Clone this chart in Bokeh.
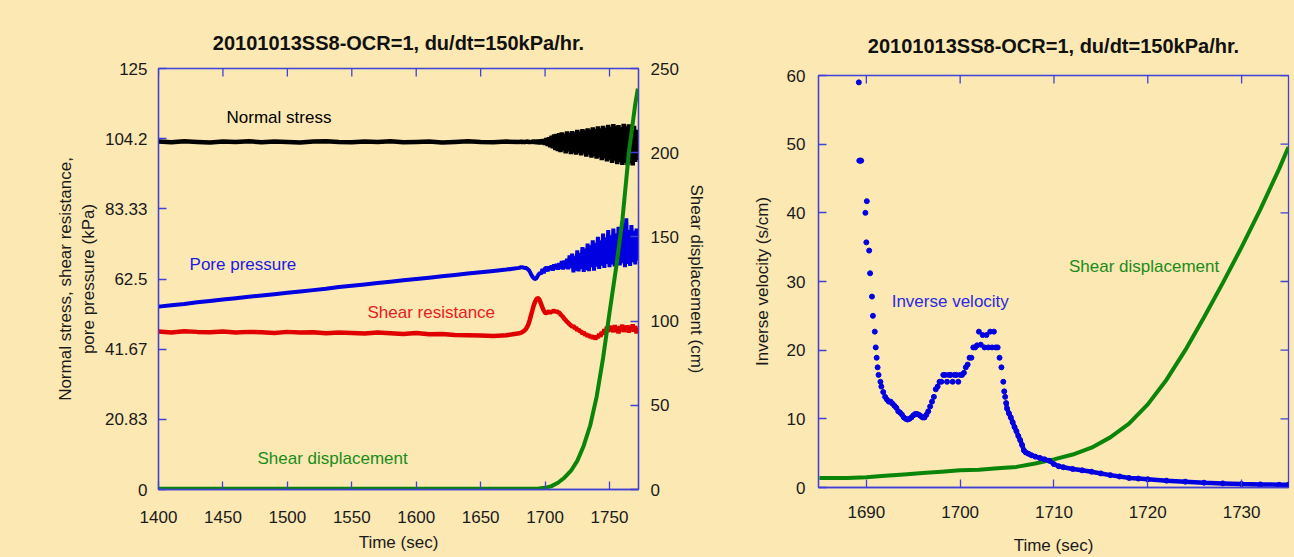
import numpy as np
from bokeh.plotting import figure
from bokeh.models import Range1d, LinearAxis, FixedTicker, GlobalInlineStyleSheet
from bokeh.embed import file_html
from bokeh.resources import INLINE
from bokeh.core.properties import value

# ---------------- data: left chart ----------------
TITLE = "20101013SS8-OCR=1, du/dt=150kPa/hr."

left_y_ticks = [0, 20.83, 41.67, 62.5, 83.33, 104.2, 125]
left_y_tick_labels = ["0", "20.83", "41.67", "62.5", "83.33", "104.2", "125"]
left_x_ticks = [1400, 1450, 1500, 1550, 1600, 1650, 1700, 1750]
disp_ticks = [0, 50, 100, 150, 200, 250]

# slow part sampled every 10 s (1400..1680), fast part every 1 s (1681..1772)
t_slow = list(range(1400, 1681, 10))
t_fast = list(range(1681, 1773, 1))

normal_slow = [103.3, 103.1, 103.4, 103.2, 103.0, 103.3, 103.2, 103.4, 103.1, 103.3,
               103.2, 103.0, 103.3, 103.4, 103.2, 103.1, 103.3, 103.2, 103.4, 103.1,
               103.2, 103.3, 103.0, 103.2, 103.4, 103.2, 103.1, 103.3, 103.2]
normal_fast = [103.3, 103.1, 103.4, 103.0, 103.3, 103.2, 103.5, 102.9, 103.4,
               103.0, 103.6, 102.8, 103.7, 102.7, 103.8, 102.6, 103.9, 102.5, 104.0, 102.4,
               104.3, 102.0, 104.6, 101.6, 105.0, 101.3, 105.4, 100.8, 105.6, 100.5,
               105.8, 100.2, 106.0, 100.6, 105.6, 99.8, 106.3, 100.4, 105.9, 99.6,
               106.4, 100.0, 106.0, 99.4, 106.8, 99.9, 106.2, 99.2, 107.0, 99.7,
               106.6, 98.8, 107.2, 99.4, 106.8, 98.5, 107.5, 99.0, 107.0, 98.2,
               107.8, 98.6, 107.2, 97.8, 108.0, 98.3, 107.4, 97.4, 108.3, 97.9,
               107.6, 97.0, 108.5, 97.6, 107.9, 96.6, 108.2, 97.2, 107.5, 96.4,
               108.6, 97.0, 107.8, 96.3, 108.4, 96.9, 107.6, 96.2, 108.0, 97.3,
               106.8, 97.8]

pore_slow = [54.3, 54.7, 55.1, 55.6, 56.0, 56.4, 56.8, 57.2, 57.6, 58.0,
             58.4, 58.8, 59.2, 59.6, 60.1, 60.5, 60.9, 61.3, 61.7, 62.1,
             62.5, 62.9, 63.3, 63.7, 64.1, 64.5, 64.9, 65.3, 65.8]
pore_fast = [66.0, 66.0, 65.9, 65.8, 65.8, 65.6, 65.3, 64.8, 64.0, 63.3,
             62.8, 62.5, 62.6, 63.2, 63.9, 64.3, 64.0, 65.5, 64.2, 65.8,
             65.8, 64.8, 66.2, 65.2, 66.5, 65.0, 66.8, 65.4, 67.0, 65.3,
             67.2, 65.5, 67.8, 65.3, 68.0, 65.6, 68.5, 65.4, 69.5, 65.8,
             70.0, 64.5, 69.2, 65.0, 71.0, 64.8, 70.2, 65.5, 72.0, 64.6,
             71.5, 65.2, 73.0, 64.8, 72.5, 66.0, 74.0, 65.0, 73.2, 66.2,
             75.0, 65.5, 74.0, 66.5, 76.0, 65.8, 74.8, 67.0, 77.0, 66.0,
             75.5, 66.8, 77.5, 66.2, 76.0, 67.5, 78.0, 66.5, 76.5, 67.2,
             79.0, 66.0, 80.5, 67.0, 77.0, 66.4, 78.5, 67.5, 76.8, 66.8,
             77.5, 68.0]

shear_slow = [46.9, 46.6, 47.0, 46.8, 46.7, 46.9, 46.6, 46.8, 46.7, 46.5,
              46.8, 46.6, 46.7, 46.4, 46.6, 46.5, 46.3, 46.6, 46.4, 46.2,
              46.5, 46.1, 46.2, 45.9, 45.8, 45.7, 45.6, 45.8, 46.4]
shear_fast = [46.5, 46.7, 46.9, 47.2, 47.6, 48.2, 49.0, 50.2, 51.6, 53.0,
              54.4, 55.5, 56.3, 56.8, 56.7, 56.0, 55.0, 54.0, 53.1, 52.5,
              52.3, 52.6, 52.9, 52.5, 52.8,
              52.9, 53.1, 52.7, 53.0, 52.6,
              52.5, 52.0, 51.6, 51.2, 50.6, 50.3, 49.8, 49.5, 49.0, 48.8,
              48.3, 48.6, 47.8, 48.1, 47.2, 47.6, 46.8, 47.1, 46.2, 46.7,
              45.8, 46.3, 45.4, 46.0, 45.1, 45.8, 44.8, 45.6, 44.6, 45.5,
              45.0, 46.2, 45.4, 46.8, 46.0, 47.6, 46.5, 48.3, 46.8, 48.6,
              47.0, 48.4, 46.7, 48.8, 46.9, 48.2, 46.4, 48.5, 47.2, 48.9,
              46.8, 48.3, 47.0, 48.7, 46.6, 48.4, 47.1, 49.0, 46.9, 48.5,
              46.4, 47.8]

disp_t = [1400, 1500, 1600, 1690, 1695, 1700, 1705, 1710, 1715, 1720, 1725,
          1730, 1735, 1740, 1745, 1750, 1755, 1760, 1765, 1770, 1772]
disp_v = [0.5, 0.5, 0.5, 0.5, 0.6, 1.0, 2.0, 4.0, 7.0, 11.0, 17.0,
          26.0, 38.0, 55.0, 78.0, 105.0, 131.0, 160.0, 200.0, 229.0, 238.0]

left_labels = ["Normal stress", "Pore pressure", "Shear resistance", "Shear displacement"]

# ---------------- data: right chart ----------------
right_x_ticks = [1690, 1700, 1710, 1720, 1730]
right_y_ticks = [0, 10, 20, 30, 40, 50, 60]

iv_t = [1689.2, 1689.25, 1689.35, 1689.45, 1689.9, 1690.05, 1690.0, 1690.3,
        1690.4, 1690.6, 1690.7, 1690.9, 1691.0, 1691.1, 1691.2, 1691.3, 1691.5,
        1691.6, 1691.8, 1692.0, 1692.2, 1692.4,
        1692.6, 1692.8, 1693.0, 1693.2, 1693.4, 1693.6, 1693.8, 1694.0, 1694.2,
        1694.4, 1694.6, 1694.8, 1695.0, 1695.2, 1695.4, 1695.6, 1695.8, 1696.0,
        1696.2, 1696.4, 1696.6, 1696.8, 1697.0, 1697.2, 1697.4, 1697.6, 1697.8,
        1698.0, 1698.2, 1698.4, 1698.6, 1698.8, 1699.0, 1699.2, 1699.4, 1699.6,
        1699.8, 1700.0, 1700.2, 1700.4, 1700.6, 1700.8, 1701.0, 1701.2, 1701.4,
        1701.6, 1701.8, 1702.0, 1702.2, 1702.4, 1702.6, 1702.8, 1703.0, 1703.2,
        1703.4, 1703.6, 1703.8, 1704.0, 1704.2, 1704.4, 1704.6, 1704.7, 1704.8]
iv_v = [59.0, 47.6, 47.6, 47.6, 40.0, 41.7, 35.7, 34.5,
        31.2, 27.8, 25.0, 22.7, 20.4, 18.9, 17.5, 16.4, 15.4,
        14.7, 13.9, 13.2, 12.8, 12.5,
        12.5, 12.2, 11.9, 11.6, 11.1, 10.9, 10.6, 10.2, 10.0,
        9.9, 10.0, 10.2, 10.5, 10.7, 10.7, 10.6, 10.4, 10.2,
        10.2, 10.6, 11.1, 11.8, 12.5, 13.2, 14.3, 14.7, 15.4,
        15.4, 16.4, 16.4, 15.4, 16.4, 16.4, 15.4, 16.4, 16.4,
        15.4, 16.4, 16.4, 16.7, 17.5, 17.9, 18.9, 18.9, 20.4,
        20.4, 20.7, 22.7, 20.8, 22.2, 20.4, 22.2, 20.4, 22.7,
        20.4, 22.7, 20.4, 20.4, 18.9, 17.5, 15.4, 14.0, 13.2]

iv_tail_t = [1704.9, 1705.0, 1705.2, 1705.4, 1705.6, 1705.8, 1706.0, 1706.2, 1706.4,
             1706.6, 1706.8, 1707.0, 1707.3, 1707.6, 1708.0, 1708.5, 1709.0, 1709.5,
             1710.0, 1710.5, 1711.0, 1712.0, 1713.0, 1714.0, 1715.0, 1716.0, 1717.0,
             1718.0, 1719.0, 1720.0, 1722.0, 1724.0, 1726.0, 1728.0, 1730.0, 1732.0,
             1734.0, 1735.0]
iv_tail_v = [12.3, 11.5, 10.8, 10.2, 9.5, 8.8, 8.2, 7.5, 6.9,
             6.2, 5.4, 5.1, 4.9, 4.7, 4.5, 4.3, 4.1, 3.9,
             3.4, 3.1, 2.95, 2.7, 2.5, 2.3, 2.05, 1.8, 1.6,
             1.4, 1.3, 1.2, 1.0, 0.85, 0.7, 0.6, 0.5, 0.45,
             0.4, 0.4]

disp2_t = [1685, 1688, 1690, 1692, 1694, 1696, 1698, 1700, 1702, 1704, 1706, 1708,
           1710, 1712, 1714, 1716, 1718, 1720, 1722, 1724, 1726, 1728, 1730, 1732,
           1734, 1735]
disp2_v = [1.4, 1.4, 1.5, 1.7, 1.9, 2.1, 2.3, 2.5, 2.6, 2.8, 3.0, 3.5,
           4.1, 4.8, 5.8, 7.3, 9.3, 12.1, 15.7, 20.0, 24.8, 29.8, 35.0, 40.5,
           46.4, 49.6]

right_labels = ["Inverse velocity", "Shear displacement"]

# ---------------- styling ----------------
BG = "#FBE8B3"
AX = "#4141D6"
FONT = "Liberation Sans"
TXT = "#1a1a1a"
BLUE = "#0000E0"
RED = "#E00000"
GREEN = "#0A850A"
FS = "17px"
TICK_PX = 8


def style_axis(ax):
    ax.axis_line_color = AX
    ax.axis_line_width = 1.3
    ax.major_tick_line_color = AX
    ax.major_tick_line_width = 1.3
    ax.major_tick_in = TICK_PX
    ax.major_tick_out = 0
    ax.minor_tick_line_color = None
    ax.major_label_text_font = FONT
    ax.major_label_text_color = TXT
    ax.major_label_text_font_size = FS
    ax.axis_label_text_font = FONT
    ax.axis_label_text_font_size = FS
    ax.axis_label_text_font_style = "normal"
    ax.axis_label_text_color = TXT


def style_title(p, standoff):
    p.title.text = TITLE
    p.title.align = "center"
    p.title.text_font = FONT
    p.title.text_font_size = "20px"
    p.title.text_font_style = "bold"
    p.title.text_color = "#111111"
    p.title.standoff = standoff


# ---------------- left figure ----------------
L_W, L_H = 740, 557
L_LEFT, L_RIGHT, L_TOP, L_BOTTOM = 158, 102, 68, 68
p1 = figure(width=L_W, height=L_H, x_range=Range1d(1400, 1772.5), y_range=Range1d(0, 125),
            output_backend="svg", toolbar_location=None,
            min_border_left=L_LEFT, min_border_right=L_RIGHT,
            min_border_top=L_TOP, min_border_bottom=L_BOTTOM,
            background_fill_color=BG, border_fill_color=BG,
            outline_line_color=AX, outline_line_width=1.3)
p1.extra_y_ranges = {"disp": Range1d(0, 250)}
p1.xgrid.visible = False
p1.ygrid.visible = False
style_title(p1, 30)

p1.xaxis.ticker = FixedTicker(ticks=left_x_ticks)
p1.xaxis.axis_label = "Time (sec)"
p1.yaxis.ticker = FixedTicker(ticks=left_y_ticks)
p1.yaxis.major_label_overrides = dict(zip(left_y_ticks, left_y_tick_labels))
p1.yaxis.axis_label = "Normal stress, shear resistance,\npore pressure (kPa)"
for ax in p1.xaxis + p1.yaxis:
    style_axis(ax)
p1.xaxis.major_label_standoff = 21
p1.xaxis.axis_label_standoff = 7
p1.yaxis.major_label_standoff = 11
p1.yaxis.axis_label_standoff = 4

ax_r = LinearAxis(y_range_name="disp", ticker=FixedTicker(ticks=disp_ticks),
                  axis_label="Shear displacement (cm)")
style_axis(ax_r)
ax_r.major_label_standoff = 12
ax_r.axis_label_standoff = 5
p1.add_layout(ax_r, "right")

# mirrored tick marks on the top edge (tick length converted to data units)
fh1 = L_H - L_TOP - L_BOTTOM
tl1 = TICK_PX * 125 / fh1
p1.segment(x0=left_x_ticks, y0=[125] * len(left_x_ticks),
           x1=left_x_ticks, y1=[125 - tl1] * len(left_x_ticks),
           line_color=AX, line_width=1.3)

t_all = t_slow + t_fast
p1.line(t_all, normal_slow + normal_fast, color="black", line_width=4.5)
p1.line(t_all, pore_slow + pore_fast, color=BLUE, line_width=4)
p1.line(t_all, shear_slow + shear_fast, color=RED, line_width=4.5)
p1.line(disp_t, disp_v, y_range_name="disp", color=GREEN, line_width=4)

p1.text(x=[1452.8, 1424.1, 1562.2, 1476.8], y=[110.4, 66.8, 52.6, 9.2], text=left_labels,
        text_color=["black", "#1A1AE6", "#E62020", "#1A8C1A"],
        text_font=value(FONT), text_font_size=FS,
        text_baseline="middle", text_align="left")

# ---------------- right figure ----------------
R_W, R_H = 554, 557
R_LEFT, R_RIGHT, R_TOP, R_BOTTOM = 78, 6, 75, 70
X2 = (1684.9, 1735.0)
p2 = figure(width=R_W, height=R_H, x_range=Range1d(*X2), y_range=Range1d(0, 60),
            output_backend="svg", toolbar_location=None,
            min_border_left=R_LEFT, min_border_right=R_RIGHT,
            min_border_top=R_TOP, min_border_bottom=R_BOTTOM,
            background_fill_color=BG, border_fill_color=BG,
            outline_line_color=AX, outline_line_width=1.3)
p2.xgrid.visible = False
p2.ygrid.visible = False
style_title(p2, 38)

p2.xaxis.ticker = FixedTicker(ticks=right_x_ticks)
p2.xaxis.axis_label = "Time (sec)"
p2.yaxis.ticker = FixedTicker(ticks=right_y_ticks)
p2.yaxis.axis_label = "Inverse velocity (s/cm)"
for ax in p2.xaxis + p2.yaxis:
    style_axis(ax)
p2.xaxis.major_label_standoff = 18
p2.xaxis.axis_label_standoff = 15
p2.yaxis.major_label_standoff = 13
p2.yaxis.axis_label_standoff = 12

# mirrored tick marks on top and right edges
fw2 = R_W - R_LEFT - R_RIGHT
fh2 = R_H - R_TOP - R_BOTTOM
tlx = TICK_PX * (X2[1] - X2[0]) / fw2
tly = TICK_PX * 60 / fh2
p2.segment(x0=right_x_ticks, y0=[60] * len(right_x_ticks),
           x1=right_x_ticks, y1=[60 - tly] * len(right_x_ticks),
           line_color=AX, line_width=1.3)
p2.segment(x0=[X2[1]] * len(right_y_ticks), y0=right_y_ticks,
           x1=[X2[1] - tlx] * len(right_y_ticks), y1=right_y_ticks,
           line_color=AX, line_width=1.3)

p2.line(disp2_t, disp2_v, color=GREEN, line_width=4)
p2.scatter(iv_t, iv_v, size=5, color=BLUE)
p2.scatter(iv_tail_t, iv_tail_v, size=5, color=BLUE)
p2.line(iv_tail_t, iv_tail_v, color=BLUE, line_width=4.5)

p2.text(x=[1692.7, 1711.6], y=[27.1, 32.2], text=right_labels,
        text_color=["#2A2AE0", "#1A8C1A"],
        text_font=value(FONT), text_font_size=FS,
        text_baseline="middle", text_align="left")

# two independent roots placed side by side (no frame alignment between them)
p1.stylesheets = [GlobalInlineStyleSheet(css=(
    "html, body { background-color: #FBE8B3; }"
    " body { display: flex !important; flex-direction: row; align-items: flex-start; }"))]

open("out.html", "w").write(file_html([p1, p2], INLINE))
